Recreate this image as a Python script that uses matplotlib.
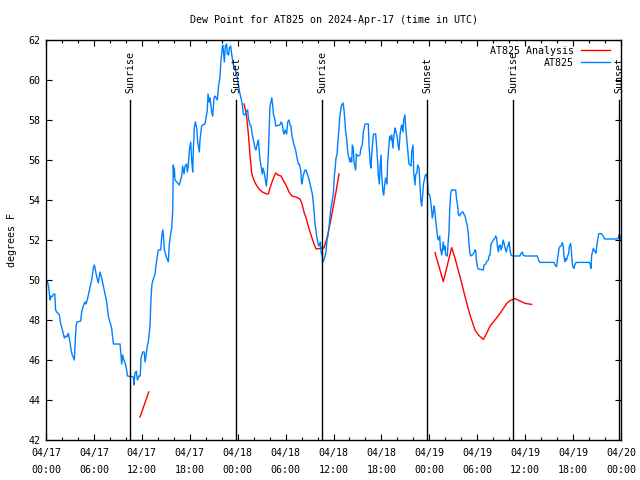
import numpy as np
import pandas as pd
import matplotlib
matplotlib.use("Agg")
import matplotlib.pyplot as plt
import matplotlib.dates as mdates

title = "Dew Point for AT825 on 2024-Apr-17 (time in UTC)"
base = pd.Timestamp("2024-04-17 00:00")

# Observed (AT825) - hours since 04/17 00:00 UTC, dew point (F)
obs_h = [0.0, 0.2, 0.35, 0.5, 0.6, 0.75, 0.95, 1.1, 1.2, 1.35, 1.67, 1.84, 2.0, 2.17, 2.3, 2.45, 2.6, 2.8,
         3.0, 3.1, 3.25, 3.55, 3.71, 3.8, 3.9, 4.34, 4.47, 4.67, 4.88, 5.0, 5.22, 5.38, 5.55, 5.72, 5.93,
         6.05, 6.14, 6.3, 6.55, 6.76, 6.97, 7.18, 7.4, 7.6, 7.8, 8.0, 8.22, 8.35, 8.45, 9.27, 9.4, 9.47,
         9.6, 9.75, 9.95, 10.1, 10.2, 10.94, 11.02, 11.14, 11.3, 11.45, 11.65, 11.8,
         11.9, 12.1, 12.3, 12.4, 12.52, 12.69, 12.81, 13.02, 13.15, 13.27, 13.4, 13.65, 13.77, 13.94,
         14.07, 14.36, 14.48, 14.6, 14.69, 14.82, 15.03, 15.32, 15.44, 15.61, 15.74, 15.86, 15.94, 16.0,
         16.07, 16.15, 16.36, 16.7, 16.78, 16.99, 17.11, 17.28, 17.41, 17.61, 17.7, 17.82, 17.95, 18.12,
         18.24, 18.37, 18.45, 18.57, 18.7, 18.87, 18.99, 19.2, 19.28, 19.49, 19.62, 19.91, 20.04, 20.2,
         20.29, 20.45, 20.54, 20.74, 20.87, 21.04, 21.16, 21.45, 21.58, 21.79, 21.91, 22.12, 22.21, 22.33,
         22.46, 22.62, 22.71, 22.87, 22.96, 23.12, 23.25, 23.46, 23.67, 23.88,
         24.08, 24.29, 24.42, 24.58, 24.71, 24.92, 25.04, 25.25, 25.34, 25.54, 25.67, 25.84, 25.96, 26.17,
         26.3, 26.42, 26.59, 26.67, 26.8, 26.92, 27.09, 27.17, 27.3, 27.38, 27.51, 27.59, 27.67, 27.76,
         27.84, 27.97, 28.05, 28.17, 28.26, 28.38, 28.47, 28.68, 28.76, 29.3, 29.43, 29.59, 29.72, 29.84,
         29.93, 30.14, 30.26, 30.43, 30.55, 30.68, 30.76, 30.97, 31.1, 31.26, 31.39, 31.6, 31.72, 31.89,
         32.01, 32.14, 32.22, 32.43, 32.56, 32.77, 32.89, 33.06, 33.18, 33.35, 33.43, 33.56, 33.68, 33.81,
         33.89, 34.1, 34.19, 34.35, 34.44, 34.6, 34.64, 34.81, 34.94, 35.06, 35.19, 35.35, 35.48, 35.65,
         35.77, 35.98, 36.1, 36.19,
         36.31, 36.44, 36.52, 36.69, 36.77, 36.94, 37.02, 37.19, 37.32, 37.44, 37.52, 37.65, 37.73, 37.86,
         37.94, 38.07, 38.15, 38.28, 38.36, 38.48, 38.57, 38.78, 38.86, 39.03, 39.11, 39.32, 39.44, 39.61,
         39.74, 39.95, 40.36, 40.45, 40.61, 40.7, 40.78, 40.95, 41.03, 41.28, 41.36, 41.53, 41.61, 41.74,
         41.82, 41.95, 42.03, 42.2, 42.28, 42.45, 42.53, 42.7, 42.78, 42.95, 43.03, 43.2, 43.28, 43.45,
         43.53, 43.7, 43.78, 43.95, 44.04, 44.2, 44.33, 44.45, 44.54, 44.7, 44.79, 44.95, 45.04, 45.16,
         45.29, 45.45, 45.58, 45.71, 45.79, 45.96, 46.04, 46.21, 46.29, 46.46, 46.54, 46.71, 46.83, 46.96,
         47.04, 47.17, 47.25, 47.46, 47.54,
         47.67, 47.79, 47.88, 47.96, 48.08, 48.21, 48.38, 48.46, 48.59, 48.67, 48.79, 48.88, 49.04, 49.13,
         49.3, 49.38, 49.55, 49.63, 49.75, 49.84, 49.96, 50.05, 50.25, 50.34, 50.46, 50.55, 50.67, 50.76,
         51.3, 51.42, 51.55, 51.63, 51.8, 51.88, 52.13, 52.22, 52.38, 52.47, 52.63, 52.72, 52.88, 52.97,
         53.09, 53.18, 53.3, 53.39, 53.64, 53.72, 53.8, 53.89, 54.05, 54.14, 54.76, 54.85, 55.06, 55.14,
         55.39, 55.47, 55.6, 55.72, 55.89, 56.01, 56.22, 56.31, 56.43, 56.52, 56.64, 56.73, 56.89, 56.98,
         57.14, 57.23, 57.39, 57.48, 57.64, 57.73, 57.89, 57.98, 58.14, 58.23, 58.39, 58.48, 59.35, 59.44,
         59.65, 59.73, 59.98, 60.61, 61.52, 61.65, 61.77, 61.86, 63.61, 63.74, 63.94, 64.03, 64.24, 64.36,
         64.57, 64.65, 64.78, 64.86, 64.99, 65.07, 65.2, 65.28, 65.45, 65.53, 65.7, 65.78, 65.87, 65.95,
         66.12, 66.2, 66.37, 66.45, 68.04, 68.12, 68.24, 68.33, 68.54, 68.62, 68.87, 68.95, 69.12, 69.2,
         69.45, 69.7, 69.79, 69.95, 71.54, 71.63, 71.79, 72.0]
obs_v = [50.0, 49.9, 49.6, 49.0, 49.2, 49.15, 49.3, 49.3, 48.5, 48.4, 48.25, 47.8, 47.6, 47.3, 47.1, 47.2, 47.15, 47.33,
         46.9, 46.6, 46.3, 46.0, 47.3, 47.8, 47.9, 47.95, 48.4, 48.7, 48.9, 48.8, 49.1, 49.4, 49.7, 50.0, 50.6,
         50.75, 50.6, 50.25, 49.85, 50.4, 50.1, 49.7, 49.3, 48.9, 48.2, 47.9, 47.6, 47.1, 46.8, 46.8, 46.2, 45.8,
         46.25, 46.0, 45.8, 45.5, 45.2, 45.15, 44.75, 45.33, 45.45, 45.0, 45.2, 45.2,
         46.1, 46.4, 46.4, 45.9, 46.2, 46.7, 46.9, 47.7, 49.1, 49.8, 50.0, 50.3, 50.7, 51.2,
         51.5, 51.5, 52.1, 52.5, 52.3, 51.5, 51.2, 50.9, 51.8, 52.3, 52.6, 53.4, 55.75, 55.2,
         55.6, 55.0, 54.9, 54.75, 54.9, 55.2, 55.7, 55.3, 55.7, 55.8, 55.4, 55.7, 56.5, 56.9,
         56.0, 55.4, 56.5, 57.6, 57.9, 57.6, 56.9, 56.4, 57.0, 57.7, 57.75, 57.8, 58.1, 58.5,
         59.3, 58.9, 59.1, 58.4, 58.2, 59.1, 59.2, 59.0, 59.6, 60.2, 61.0, 61.75, 61.5, 60.9,
         61.7, 61.8, 61.3, 61.25, 61.6, 61.7, 61.3, 60.75, 60.5, 60.3,
         59.8, 59.3, 59.1, 58.75, 58.3, 58.25, 58.4, 58.5, 58.1, 57.75, 57.7, 57.25, 57.0, 56.6,
         56.5, 56.75, 57.0, 56.6, 56.0, 55.7, 55.3, 55.6, 55.4, 55.25, 54.9, 54.7, 55.0, 55.7,
         56.3, 57.7, 58.7, 58.9, 59.1, 58.75, 58.3, 58.0, 57.7, 57.75, 57.9, 57.8, 57.4, 57.3,
         57.5, 57.3, 57.9, 58.0, 57.75, 57.7, 57.3, 56.9, 56.7, 56.5, 56.2, 55.8, 55.8, 55.5,
         54.8, 55.0, 55.25, 55.5, 55.5, 55.25, 55.1, 54.8, 54.6, 54.3, 54.0, 53.5, 52.8, 52.5,
         52.2, 51.75, 51.7, 51.9, 51.4, 51.2, 50.9, 51.0, 51.2, 51.4, 52.0, 52.3, 52.8, 53.5,
         53.8, 54.3, 55.2, 55.5,
         56.1, 56.25, 56.75, 57.6, 58.1, 58.6, 58.75, 58.85, 58.5, 57.9, 57.4, 57.1, 56.6, 56.2,
         56.1, 55.9, 56.1, 55.9, 56.75, 56.6, 55.9, 55.5, 56.3, 56.2, 56.2, 56.25, 56.6, 56.75,
         57.4, 57.8, 57.8, 56.75, 55.75, 55.6, 56.25, 57.1, 57.3, 57.3, 56.9, 55.9, 55.25, 54.8,
         55.6, 56.25, 55.25, 54.4, 54.25, 54.9, 55.1, 54.8, 55.9, 56.75, 57.2, 57.0, 57.25, 56.6,
         57.1, 57.6, 57.5, 57.2, 56.9, 56.5, 57.25, 57.6, 57.75, 57.4, 58.0, 58.25, 57.6, 57.1,
         56.5, 55.8, 55.75, 55.7, 56.4, 56.75, 55.4, 54.75, 55.25, 55.4, 55.75, 55.6, 54.7, 53.9,
         53.7, 54.25, 54.75, 55.2, 55.25,
         55.3, 54.8, 54.3, 54.3, 54.2, 53.8, 53.1, 53.3, 53.7, 53.5, 53.0, 52.7, 52.1, 52.0,
         52.2, 51.6, 51.25, 51.5, 51.9, 51.5, 51.7, 51.25, 51.2, 51.8, 52.4, 53.5, 54.3, 54.5,
         54.5, 54.0, 53.7, 53.3, 53.2, 53.3, 53.4, 53.4, 53.25, 53.2, 52.9, 52.8, 52.3, 51.8,
         51.3, 51.2, 51.25, 51.25, 51.4, 51.5, 51.5, 51.0, 50.6, 50.55, 50.5, 50.75, 50.8, 50.9,
         51.0, 51.2, 51.25, 51.8, 51.9, 52.0, 52.1, 52.2, 52.1, 51.7, 51.4, 51.7, 51.75, 51.5,
         51.7, 52.0, 51.8, 51.6, 51.4, 51.6, 51.75, 51.9, 51.4, 51.25, 51.2, 51.2, 51.2, 51.3,
         51.4, 51.25, 51.2, 51.2, 51.2, 51.03, 50.92, 50.88, 50.88, 50.75, 50.67, 51.0, 51.58, 51.67,
         51.75, 51.87, 51.67, 51.17, 50.92, 51.08, 51.0, 51.17, 51.33, 51.67, 51.83, 51.5, 51.0, 50.67,
         50.58, 50.75, 50.87, 50.88, 50.88, 50.83, 50.58, 51.25, 51.58, 51.5, 51.33, 51.67, 52.08, 52.3,
         52.33, 52.25, 52.17, 52.05, 52.05, 52.08, 52.3, 52.05]

# Analysis (AT825 Analysis) - three separate runs
ana1_h = [11.77, 12.3, 12.86]
ana1_v = [43.15, 43.75, 44.4]
ana2_h = [24.79, 24.98, 25.17, 25.36, 25.55, 25.76, 25.92, 26.26, 26.67, 27.09, 27.64, 27.84, 28.05,
          28.39, 28.76, 29.05, 29.43, 29.68, 30.05, 30.43, 30.8, 31.3, 31.8, 32.06, 32.31, 32.56,
          32.81, 33.06, 33.31, 33.56, 33.81, 34.81, 35.19, 35.56, 35.94, 36.31, 36.69]
ana2_v = [58.8, 58.5, 58.0, 57.2, 56.2, 55.35, 55.1, 54.8, 54.55, 54.4, 54.3, 54.3, 54.6,
          55.0, 55.35, 55.25, 55.2, 55.0, 54.75, 54.4, 54.2, 54.15, 54.05, 53.8, 53.4, 53.1,
          52.75, 52.4, 52.1, 51.8, 51.55, 51.6, 52.1, 52.8, 53.6, 54.4, 55.3]
ana3_h = [48.71, 49.75, 50.8, 51.22, 51.84, 52.47, 53.09, 53.72, 54.14, 54.76, 55.18, 55.6, 56.22,
          56.85, 57.69, 58.1, 58.73, 59.35, 59.98, 60.82]
ana3_v = [51.37, 49.92, 51.62, 51.08, 50.17, 49.17, 48.25, 47.5, 47.25, 47.03, 47.33, 47.7, 48.0,
          48.33, 48.83, 48.97, 49.07, 48.95, 48.83, 48.78]

# Sun events (hours since 04/17 00:00 UTC)
event_h = [10.55, 23.83, 34.6, 47.75, 58.52, 71.8]
event_labels = ["Sunrise", "Sunset", "Sunrise", "Sunset", "Sunrise", "Sunset"]

y_ticks = [42, 44, 46, 48, 50, 52, 54, 56, 58, 60, 62]


def to_time(hours):
    return base + pd.to_timedelta(np.asarray(hours, dtype=float), unit="h")


FONT = "DejaVu Sans Mono"
FS = 7.2
plt.rcParams["font.family"] = FONT

fig = plt.figure(figsize=(6.4, 4.8), dpi=100)
ax = fig.add_axes([46 / 640, 1 - 440 / 480, (621 - 46) / 640, 400 / 480])

blue = "#0080ff"
red = "#ff0000"

ax.plot(to_time(ana1_h), ana1_v, color=red, lw=1.0, label="AT825 Analysis")
ax.plot(to_time(ana2_h), ana2_v, color=red, lw=1.0)
ax.plot(to_time(ana3_h), ana3_v, color=red, lw=1.0)
ax.plot(to_time(obs_h), obs_v, color=blue, lw=1.0, label="AT825")

for h, lab in zip(event_h, event_labels):
    t = to_time([h])[0]
    ax.plot([t, t], [42, 59], color="black", lw=1.0)
    ax.text(t, 59.35, lab, rotation=90, ha="center", va="bottom", fontsize=FS, family=FONT)

ax.set_xlim(base, base + pd.Timedelta(hours=72))
ax.set_ylim(42, 62)
ax.set_yticks(y_ticks)
ax.set_yticklabels([str(v) for v in y_ticks])

ax.xaxis.set_major_locator(mdates.HourLocator(byhour=[0, 6, 12, 18]))
ax.xaxis.set_minor_locator(mdates.HourLocator(byhour=range(0, 24, 2)))
ax.xaxis.set_major_formatter(mdates.DateFormatter("%m/%d\n%H:%M"))

ax.tick_params(axis="both", which="major", direction="in", length=4.5, width=0.8,
               top=True, right=True, labelsize=FS, pad=4)
ax.tick_params(axis="x", which="major", pad=6.0)
ax.tick_params(axis="x", which="minor", direction="in", length=2.5, width=0.8, top=True)

for s in ax.spines.values():
    s.set_linewidth(1.0)

ax.set_ylabel("degrees F", fontsize=FS, labelpad=8)
ax.set_title(title, fontsize=FS, pad=12)

leg = ax.legend(loc="upper right", frameon=False, markerfirst=False, fontsize=FS,
                handlelength=2.9, handletextpad=0.7, labelspacing=0.2,
                borderaxespad=0.0, bbox_to_anchor=(0.988, 0.995))

fig.canvas.draw()
for tk in ax.xaxis.get_major_ticks():
    tk.label1.set_linespacing(1.85)

fig.savefig("out.png", dpi=100)
